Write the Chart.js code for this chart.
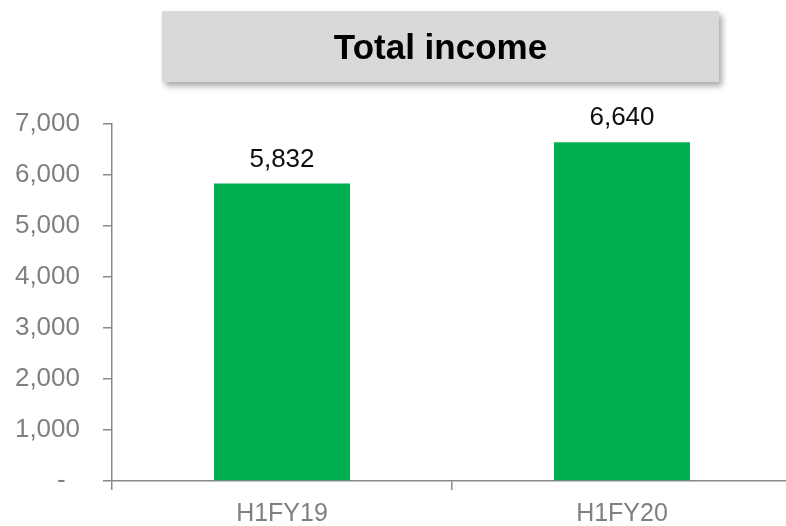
<!DOCTYPE html>
<html>
<head>
<meta charset="utf-8">
<script src="https://cdn.jsdelivr.net/npm/chart.js@4.4.1/dist/chart.umd.min.js"></script>
<style>
    html, body { margin: 0; padding: 0; background: #fff; overflow: hidden; }
    #wrap { position: relative; width: 800px; height: 526px; }
    #titulo {
        position: absolute; left: 162px; top: 11px; width: 557px; height: 71px;
        background: #d9d9d9; box-shadow: 3px 4px 6px rgba(0,0,0,0.35);
        font: bold 35px "Liberation Sans", Arial, sans-serif; color: #000;
        display: flex; align-items: center; justify-content: center;
    }
    canvas { position: absolute; left: 0; top: 0; }
</style>
</head>
<body>
<div id="wrap">
    <canvas id="grafico" width="800" height="526"></canvas>
    <div id="titulo">Total income</div>
</div>
<script>
// datos
const categorias = ['H1FY19', 'H1FY20'];
const ingresos = [5832, 6640];
const ticksY = [0, 1000, 2000, 3000, 4000, 5000, 6000, 7000];

const GRIS_EJE = '#898989';
const GRIS_TEXTO = '#808080';
const FUENTE = '"Liberation Sans", Arial, sans-serif';

// etiquetas encima de las barras
const etiquetasBarras = {
    id: 'etiquetasBarras',
    afterDatasetsDraw(chart) {
        const ctx = chart.ctx;
        const meta = chart.getDatasetMeta(0);
        ctx.save();
        ctx.font = '26px ' + FUENTE;
        ctx.fillStyle = '#0d0d0d';
        ctx.textAlign = 'center';
        ctx.textBaseline = 'alphabetic';
        meta.data.forEach((barra, i) => {
            ctx.fillText(ingresos[i].toLocaleString('en-US'), barra.x, barra.y - 17);
        });
        ctx.restore();
    }
};

const ctx = document.getElementById('grafico').getContext('2d');
new Chart(ctx, {
    type: 'bar',
    data: {
        labels: categorias,
        datasets: [{
            data: ingresos,
            backgroundColor: '#00b050',
            borderWidth: 0,
            categoryPercentage: 1,
            barPercentage: 0.4
        }]
    },
    options: {
        responsive: false,
        animation: false,
        layout: { padding: { top: 124, right: 8, left: 0, bottom: 0 } },
        plugins: { legend: { display: false }, tooltip: { enabled: false } },
        scales: {
            x: {
                grid: { drawOnChartArea: false, drawTicks: true, tickLength: 9, color: GRIS_EJE, lineWidth: 1.5, offset: true },
                border: { display: true, color: GRIS_EJE, width: 1.5 },
                ticks: { color: GRIS_TEXTO, font: { family: FUENTE, size: 25 }, padding: 9 },
                afterFit: s => { s.height = 45; }
            },
            y: {
                min: 0,
                max: ticksY[ticksY.length - 1],
                afterBuildTicks: s => { s.ticks = ticksY.map(v => ({ value: v })); },
                grid: { drawOnChartArea: false, drawTicks: true, tickLength: 9, color: GRIS_EJE, lineWidth: 1.5 },
                border: { display: true, color: GRIS_EJE, width: 1.5 },
                ticks: {
                    color: GRIS_TEXTO,
                    font: { family: FUENTE, size: 26 },
                    padding: 23,
                    callback: v => v === 0 ? '-  ' : v.toLocaleString('en-US')
                },
                afterFit: s => { s.width = 112; }
            }
        }
    },
    plugins: [etiquetasBarras]
});
</script>
</body>
</html>
